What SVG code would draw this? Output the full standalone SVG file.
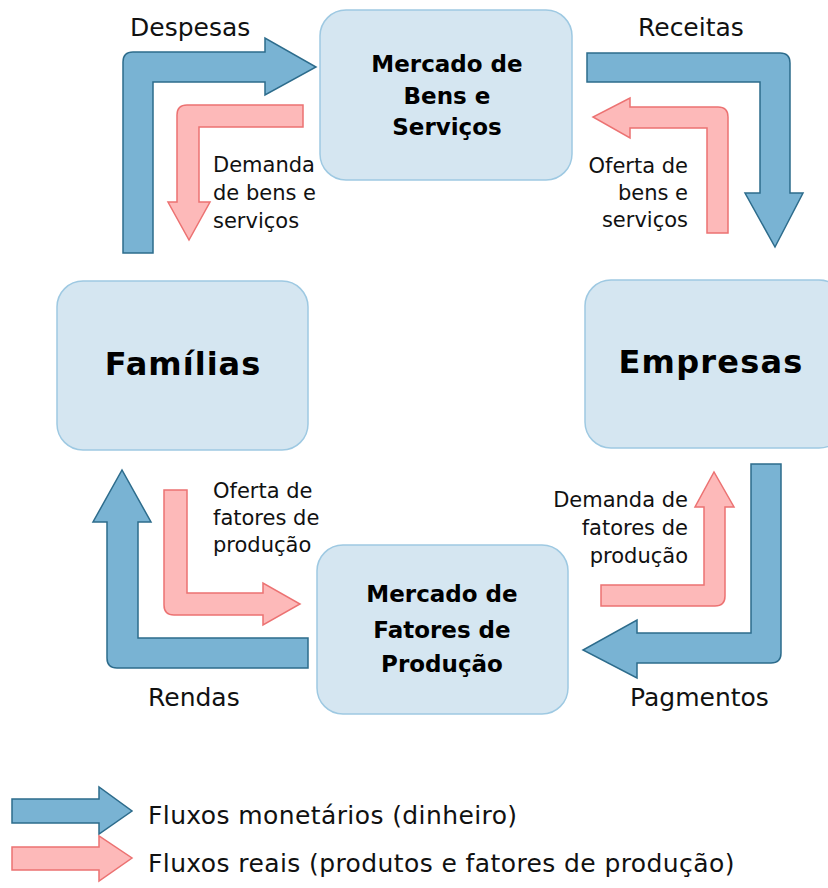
<svg xmlns="http://www.w3.org/2000/svg" width="828" height="888" viewBox="0 0 828 888">
<style>
.box{fill:#d5e6f1;stroke:#9ec9e2;stroke-width:1.5}
.blue{fill:#79b3d3;stroke:#2d6c8c;stroke-width:1.5;stroke-linejoin:miter}
.red{fill:#fdb9b9;stroke:#ec7272;stroke-width:1.5}
text{font-family:"DejaVu Sans","Liberation Sans",sans-serif;fill:#111}
.nb{font-weight:bold;font-size:23px;text-anchor:middle;fill:#000}
.big{font-weight:bold;font-size:32px;text-anchor:middle;fill:#000}
.lbl{font-size:25px}
.sm{font-size:21px}
.r{text-anchor:end}
.leg{font-size:25px;letter-spacing:0.4px}
</style>
<g id="mercado-bens">
<rect class="box" x="320" y="10" width="252" height="170" rx="26"/>
<text class="nb" x="447" y="72">Mercado de</text>
<text class="nb" x="447" y="104">Bens e</text>
<text class="nb" x="447" y="135">Serviços</text>
</g>
<g id="familias">
<rect class="box" x="57" y="281" width="251" height="169" rx="26"/>
<text class="big" x="183" y="375" letter-spacing="1">Famílias</text>
</g>
<g id="empresas">
<rect class="box" x="585" y="280" width="260" height="168" rx="26"/>
<text class="big" x="711" y="373" letter-spacing="1.2">Empresas</text>
</g>
<g id="mercado-fatores">
<rect class="box" x="317" y="545" width="251" height="169" rx="26"/>
<text class="nb" x="442" y="602">Mercado de</text>
<text class="nb" x="442" y="638">Fatores de</text>
<text class="nb" x="442" y="672">Produção</text>
</g>
<g id="connectors">
<path class="blue" d="M123,253 L123,62 Q123,52 133,52 L265,52 L265,38 L316,67 L265,95 L265,82 L153,82 L153,253 Z"/>
<path class="red" d="M303,105 L187,105 Q177,105 177,115 L177,202 L168,202 L189,240 L210,202 L199,202 L199,127 L303,127 Z"/>
<path class="blue" d="M587,53 L780,53 Q790,53 790,63 L790,193 L803,193 L775,247 L745,193 L760,193 L760,82 L587,82 Z"/>
<path class="red" d="M707,233 L707,128 L630,128 L630,138 L593,117 L630,98 L630,107 L718,107 Q728,107 728,117 L728,233 Z"/>
<path class="blue" d="M308,668 L117,668 Q107,668 107,658 L107,522 L93,522 L122,470 L151,522 L138,522 L138,638 L308,638 Z"/>
<path class="red" d="M164,490 L187,490 L187,593 L263,593 L263,583 L300,604 L263,625 L263,615 L174,615 Q164,615 164,605 Z"/>
<path class="blue" d="M751,464 L781,464 L781,653 Q781,663 771,663 L637,663 L637,678 L583,650 L637,620 L637,633 L751,633 Z"/>
<path class="red" d="M601,585 L704,585 L704,507 L695,507 L714,472 L734,507 L725,507 L725,596 Q725,606 715,606 L601,606 Z"/>
</g>
<g id="labels">
<text class="lbl" x="130" y="36">Despesas</text>
<text class="lbl" x="638" y="36">Receitas</text>
<text class="lbl" x="148" y="706">Rendas</text>
<text class="lbl" x="630" y="706">Pagmentos</text>
<text class="sm" x="213" y="172">Demanda</text>
<text class="sm" x="213" y="200">de bens e</text>
<text class="sm" x="213" y="228">serviços</text>
<text class="sm r" x="688" y="173">Oferta de</text>
<text class="sm r" x="688" y="200">bens e</text>
<text class="sm r" x="688" y="227">serviços</text>
<text class="sm" x="213" y="498">Oferta de</text>
<text class="sm" x="213" y="525">fatores de</text>
<text class="sm" x="213" y="552">produção</text>
<text class="sm r" x="688" y="507">Demanda de</text>
<text class="sm r" x="688" y="535">fatores de</text>
<text class="sm r" x="688" y="563">produção</text>
</g>
<g id="legend">
<path class="blue" d="M12,799 L99,799 L99,787 L132,811 L99,834 L99,823 L12,823 Z"/>
<path class="red" d="M12,847 L99,847 L99,836 L132,858 L99,881 L99,870 L12,870 Z"/>
<text class="leg" x="148" y="824">Fluxos monetários (dinheiro)</text>
<text class="leg" x="148" y="872">Fluxos reais (produtos e fatores de produção)</text>
</g>
</svg>
